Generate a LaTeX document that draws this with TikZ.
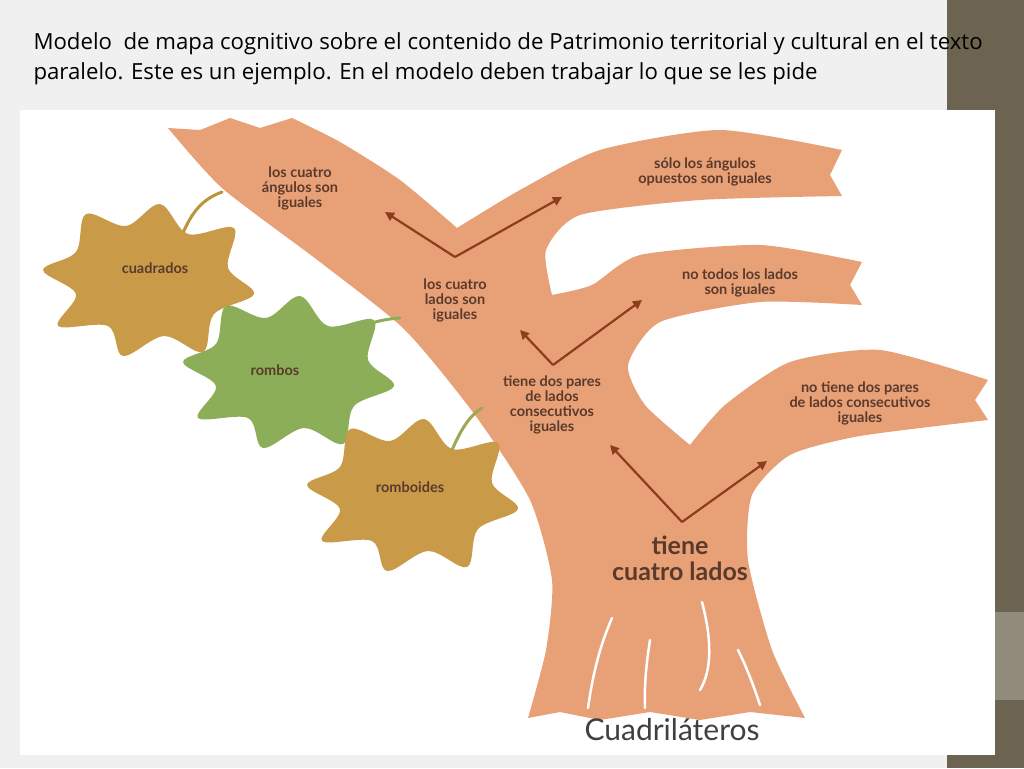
\documentclass[tikz,border=0pt]{standalone}
\usepackage{fontspec}
\setmainfont{Open Sans}
\newfontfamily\lab{Lato}
\usetikzlibrary{arrows.meta}
\definecolor{bark}{HTML}{E8A077}
\definecolor{arr}{HTML}{8E3B1E}
\definecolor{txt}{HTML}{5A3A2C}
\definecolor{ochre}{HTML}{C99B48}
\definecolor{leafg}{HTML}{8CAE58}
\definecolor{strip}{HTML}{6C6450}
\tikzset{
 lbl/.style={font=\lab\bfseries\fontsize{14.5}{15}\selectfont,text=txt,align=center},
 leaflbl/.style={font=\lab\bfseries\fontsize{14.5}{15}\selectfont,text=txt},
 ar/.style={draw=arr,line width=2.2pt,-{Triangle[length=9pt,width=9pt]}},
 root/.style={draw=white,line width=2.5pt,line cap=round},
 stem/.style={line width=3pt,line cap=round}
}
\newcommand{\leafshape}{plot[smooth cycle,tension=0.55] coordinates{(-105,-10)(-72,-28)(-62,-66)(-22,-54)(12,-76)(40,-46)(86,-52)(80,-12)(106,14)(66,34)(55,72)(16,56)(-25,76)(-40,46)(-90,46)(-72,14)}}
\begin{document}
\begin{tikzpicture}[x=1pt,y=-1pt]
\useasboundingbox (0,0) rectangle (1024,768);
\fill[gray!12] (0,0) rectangle (1024,768);
\fill[strip] (947,0) rectangle (1024,768);
\fill[strip!75!white] (947,612) rectangle (1024,700);
\fill[white] (20,110) rectangle (995,755);
\node[anchor=west,font=\fontsize{22.2}{30}\selectfont,align=left] (title) at (30,59) {Modelo \ de mapa cognitivo sobre el contenido de Patrimonio territorial y cultural en el texto\\paralelo. Este es un ejemplo. En el modelo deben trabajar lo que se les pide};
% tree
\fill[bark] plot[smooth,tension=0.4] coordinates{(168,128)(222,188)(320,262)(405,330)(475,415)(530,500)(552,580)(546,650)(528,718)}
 -- (560,712) -- (600,720) -- (650,712) -- (700,720) -- (750,712) -- (805,718)
 -- plot[smooth,tension=0.4] coordinates{(805,718)(772,650)(748,560)(752,495)(790,455)(860,436)(988,420)}
 -- (975,400) -- (988,380)
 -- plot[smooth,tension=0.4] coordinates{(988,380)(880,350)(790,362)(725,405)(690,445)}
 -- plot[smooth,tension=0.4] coordinates{(690,445)(645,405)(628,365)(660,322)(760,302)(862,305)}
 -- (850,285) -- (862,262)
 -- plot[smooth,tension=0.4] coordinates{(862,262)(760,245)(640,255)(592,285)(552,295)}
 -- plot[smooth,tension=0.4] coordinates{(552,295)(546,250)(580,215)(700,200)(842,196)}
 -- (830,175) -- (842,150)
 -- plot[smooth,tension=0.4] coordinates{(842,150)(720,130)(600,150)(520,190)(457,228)}
 -- plot[smooth,tension=0.4] coordinates{(457,228)(400,180)(340,142)(292,118)}
 -- (260,128) -- (230,118) -- (200,130) -- cycle;
% roots
\draw[root] (612,618) .. controls (598,650) and (592,680) .. (588,708);
\draw[root] (650,640) .. controls (646,665) and (644,690) .. (645,708);
\draw[root] (702,602) .. controls (712,640) and (712,670) .. (700,690);
\draw[root] (738,650) .. controls (748,670) and (755,690) .. (760,705);
% arrows
\coordinate (v1) at (455,257); \coordinate (v2) at (553,365); \coordinate (v3) at (682,522);
\draw[ar] (v1) -- (385,212); \draw[ar] (v1) -- (562,197);
\draw[ar] (v2) -- (520,330); \draw[ar] (v2) -- (642,300);
\draw[ar] (v3) -- (610,445); \draw[ar] (v3) -- (767,461);
% labels
\node[lbl] (a) at (300,188) {los cuatro\\ángulos son\\iguales};
\node[lbl] (b) at (705,172) {sólo los ángulos\\opuestos son iguales};
\node[lbl] (c) at (455,300) {los cuatro\\lados son\\iguales};
\node[lbl] (d) at (740,283) {no todos los lados\\son iguales};
\node[lbl] (e) at (552,405) {tiene dos pares\\de lados\\consecutivos\\iguales};
\node[lbl] (f) at (860,403) {no tiene dos pares\\de lados consecutivos\\iguales};
\node[font=\lab\bfseries\fontsize{25}{26}\selectfont,text=txt,align=center] (g) at (680,558) {tiene\\cuatro lados};
\node[font=\lab\fontsize{30}{32}\selectfont,text=black!75] (h) at (672,730) {Cuadriláteros};
% leaves
\draw[stem,draw=ochre!80!olive] (180,240) .. controls (190,215) and (200,200) .. (222,192);
\begin{scope}[shift={(148,280)}]\fill[ochre] \leafshape;\end{scope}
\node[leaflbl] (l1) at (155,268) {cuadrados};
\draw[stem,draw=leafg] (330,350) .. controls (350,330) and (370,320) .. (400,318);
\begin{scope}[shift={(288,372)}]\fill[leafg] \leafshape;\end{scope}
\node[leaflbl] (l2) at (275,370) {rombos};
\draw[stem,draw=leafg!70!ochre] (450,455) .. controls (460,430) and (470,415) .. (482,408);
\begin{scope}[shift={(412,495)}]\fill[ochre] \leafshape;\end{scope}
\node[leaflbl] (l3) at (410,487) {romboides};
\end{tikzpicture}
\end{document}
